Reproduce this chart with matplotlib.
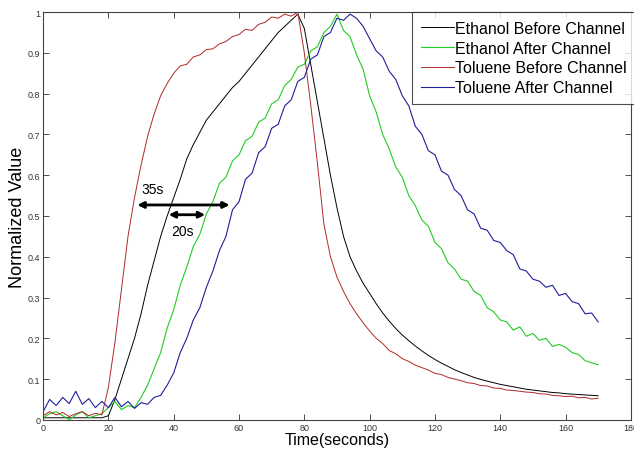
import numpy as np
import matplotlib
matplotlib.use('Agg')
import matplotlib.pyplot as plt

plt.rcParams['font.family'] = ['Liberation Sans', 'DejaVu Sans']

# sample times (s)
time = list(range(0, 171, 2))

ethanol_before = [0.005, 0.005, 0.005, 0.005, 0.005, 0.005, 0.005, 0.005, 0.005, 0.005,
                  0.01, 0.05, 0.10, 0.15, 0.20, 0.26, 0.33, 0.39, 0.45, 0.50,
                  0.545, 0.59, 0.64, 0.675, 0.705, 0.735, 0.755, 0.775, 0.795, 0.815,
                  0.83, 0.85, 0.87, 0.89, 0.91, 0.93, 0.95, 0.965, 0.98, 0.995,
                  0.96, 0.87, 0.78, 0.69, 0.60, 0.52, 0.45, 0.40, 0.365, 0.335,
                  0.31, 0.285, 0.262, 0.242, 0.224, 0.208, 0.194, 0.181, 0.169, 0.158,
                  0.148, 0.139, 0.131, 0.123, 0.116, 0.11, 0.104, 0.099, 0.095, 0.091,
                  0.087, 0.084, 0.081, 0.078, 0.075, 0.073, 0.071, 0.069, 0.067, 0.066,
                  0.064, 0.063, 0.062, 0.061, 0.06, 0.059]

toluene_before = [0.01, 0.02, 0.012, 0.018, 0.008, 0.015, 0.02, 0.01, 0.016, 0.012,
                  0.08, 0.19, 0.32, 0.45, 0.545, 0.625, 0.695, 0.75, 0.795, 0.825,
                  0.85, 0.868, 0.872, 0.89, 0.895, 0.908, 0.91, 0.922, 0.928, 0.94,
                  0.945, 0.958, 0.955, 0.97, 0.975, 0.988, 0.985, 0.995, 0.99, 1.0,
                  0.90, 0.77, 0.63, 0.48, 0.40, 0.35, 0.315, 0.285, 0.26, 0.238,
                  0.218, 0.2, 0.187, 0.17, 0.162, 0.15, 0.143, 0.134, 0.128, 0.122,
                  0.114, 0.111, 0.104, 0.1, 0.096, 0.091, 0.089, 0.084, 0.083, 0.078,
                  0.077, 0.073, 0.072, 0.07, 0.068, 0.067, 0.064, 0.063, 0.06, 0.059,
                  0.057, 0.058, 0.054, 0.055, 0.051, 0.053]

ethanol_after = [0.005, 0.015, 0.02, 0.01, 0.0, 0.012, 0.02, 0.005, 0.01, 0.015,
                 0.03, 0.045, 0.025, 0.035, 0.03, 0.055, 0.085, 0.125, 0.165, 0.225,
                 0.27, 0.33, 0.375, 0.425, 0.455, 0.505, 0.535, 0.58, 0.595, 0.635,
                 0.65, 0.685, 0.695, 0.73, 0.74, 0.775, 0.785, 0.82, 0.835, 0.865,
                 0.872, 0.905, 0.915, 0.95, 0.965, 0.995,
                 0.955, 0.94, 0.895, 0.86, 0.795, 0.755, 0.70, 0.665, 0.62, 0.595,
                 0.55, 0.525, 0.49, 0.475, 0.435, 0.42, 0.385, 0.37, 0.345, 0.34,
                 0.315, 0.305, 0.275, 0.265, 0.245, 0.24, 0.22, 0.228, 0.205, 0.212,
                 0.195, 0.2, 0.18, 0.185, 0.178, 0.165, 0.16, 0.145, 0.14, 0.135]

toluene_after = [0.02, 0.05, 0.035, 0.055, 0.04, 0.07, 0.038, 0.052, 0.03, 0.045,
                 0.03, 0.055, 0.032, 0.045, 0.028, 0.042, 0.038, 0.055, 0.06, 0.085,
                 0.115, 0.165, 0.2, 0.245, 0.275, 0.325, 0.365, 0.415, 0.45, 0.515,
                 0.535, 0.59, 0.605, 0.655, 0.67, 0.715, 0.725, 0.77, 0.785, 0.83,
                 0.84, 0.885, 0.895, 0.94, 0.95, 0.985, 0.98, 0.995, 0.985,
                 0.965, 0.935, 0.905, 0.89, 0.855, 0.835, 0.795, 0.77, 0.72, 0.7,
                 0.66, 0.65, 0.61, 0.6, 0.565, 0.55, 0.515, 0.505, 0.47, 0.465,
                 0.44, 0.435, 0.415, 0.405, 0.37, 0.365, 0.345, 0.34, 0.325, 0.33,
                 0.305, 0.31, 0.29, 0.285, 0.26, 0.262, 0.24]

fig = plt.figure(figsize=(6.34, 4.52), dpi=100)
ax = fig.add_axes([0.068, 0.069, 0.927, 0.902])

ax.plot(time, ethanol_before, color='black', lw=0.7, label='Ethanol Before Channel')
ax.plot(time, ethanol_after, color='#22cc22', lw=0.8, label='Ethanol After Channel')
ax.plot(time, toluene_before, color='#b02828', lw=0.7, label='Toluene Before Channel')
ax.plot(time, toluene_after, color='#1f1f9a', lw=0.8, label='Toluene After Channel')

ax.set_xlim(0, 180)
ax.set_ylim(0, 1)
ax.set_xticks(range(0, 181, 20))
ax.set_yticks(np.arange(0, 1.01, 0.1))
ax.set_yticklabels(['0', '0.1', '0.2', '0.3', '0.4', '0.5', '0.6', '0.7', '0.8', '0.9', '1'])
ax.tick_params(direction='in', length=4, width=0.6, top=True, right=True,
               labelsize=6.5, colors='#333333', pad=2)
for s in ax.spines.values():
    s.set_linewidth(0.8)
    s.set_color('#444444')

ax.set_xlabel('Time(seconds)', fontsize=11.5, labelpad=0)
ax.set_ylabel('Normalized Value', fontsize=13, labelpad=1)

# arrows for the delays
ax.annotate('', xy=(28, 0.527), xytext=(58, 0.527),
            arrowprops=dict(arrowstyle='<|-|>', color='black', lw=2, mutation_scale=9))
ax.annotate('', xy=(37.6, 0.503), xytext=(50.5, 0.503),
            arrowprops=dict(arrowstyle='<|-|>', color='black', lw=2, mutation_scale=9))
ax.text(33.6, 0.565, '35s', fontsize=10, ha='center', va='center')
ax.text(42.8, 0.462, '20s', fontsize=10, ha='center', va='center')

leg = ax.legend(loc='upper right', bbox_to_anchor=(1.0085, 1.0), borderaxespad=0,
                fontsize=11.5, frameon=True, fancybox=False, handlelength=2.1,
                handletextpad=0.08, labelspacing=0.3, borderpad=0.55)
leg.get_frame().set_edgecolor('#222222')
leg.get_frame().set_linewidth(0.8)

plt.savefig('out.png', dpi=100)
